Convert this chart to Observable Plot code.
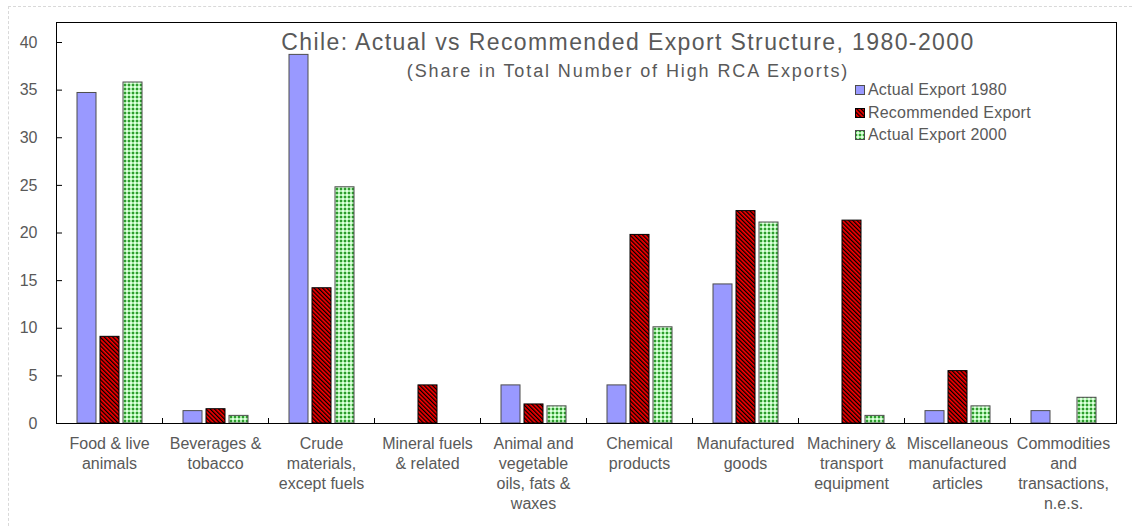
<!DOCTYPE html>
<html>
<head>
<meta charset="utf-8">
<script src="https://cdn.jsdelivr.net/npm/d3@7"></script>
<script src="https://cdn.jsdelivr.net/npm/@observablehq/plot@0.6"></script>
<style>
  html, body { margin: 0; padding: 0; background: #fff; }
  #wrap { position: relative; width: 1132px; height: 526px; overflow: hidden; font-family: "Liberation Sans", Arial, sans-serif; color: #595959; }
  #border { position: absolute; left: 8px; top: 6px; right: -10px; bottom: -10px; border-left: 1px dashed #d9d9d9; border-top: 1px dashed #d9d9d9; }
  #chart { position: absolute; left: 0; top: 0; }
  .title { position: absolute; left: 0; width: 1256px; text-align: center; white-space: nowrap; }
  #t1 { top: 29px; font-size: 23px; letter-spacing: 1.4px; }
  #t2 { top: 61px; font-size: 18px; letter-spacing: 1.9px; }
  #legend { position: absolute; left: 855px; top: 79px; font-size: 16px; letter-spacing: 0.2px; }
  .item { height: 22.5px; line-height: 22.5px; display: flex; align-items: center; white-space: nowrap; }
  .item svg { margin-right: 3px; }
</style>
</head>
<body>
<div id="wrap">
  <div id="border"></div>
  <div id="chart"></div>
  <div class="title" id="t1">Chile: Actual vs Recommended Export Structure, 1980-2000</div>
  <div class="title" id="t2">(Share in Total Number of High RCA Exports)</div>
  <div id="legend"></div>
</div>
<svg width="0" height="0" style="position:absolute">
  <defs>
    <pattern id="pBlue" width="4" height="4" patternUnits="userSpaceOnUse">
      <rect width="4" height="4" fill="#9999ff"></rect>
    </pattern>
    <pattern id="pRed" width="3" height="3" patternUnits="userSpaceOnUse" patternTransform="rotate(-45)">
      <rect width="3" height="3" fill="#ff0000"></rect>
      <rect width="1.3" height="3" fill="#000000"></rect>
    </pattern>
    <pattern id="pGreen" width="4" height="4" patternUnits="userSpaceOnUse">
      <rect width="4" height="4" fill="#a8eca8"></rect>
      <rect x="0" y="0" width="2" height="2" fill="#2e9a2e"></rect>
      <rect x="2" y="2" width="2" height="2" fill="#e0ffe0"></rect>
    </pattern>
  </defs>
</svg>
<script>
// ---- data ----
const categories = ["Food", "Beverages", "Crude", "Mineral", "Animal", "Chemical", "Manufactured", "Machinery", "Miscellaneous", "Commodities"];
const categoryLabels = [
  "Food & live\nanimals",
  "Beverages &\ntobacco",
  "Crude\nmaterials,\nexcept fuels",
  "Mineral fuels\n& related",
  "Animal and\nvegetable\noils, fats &\nwaxes",
  "Chemical\nproducts",
  "Manufactured\ngoods",
  "Machinery &\ntransport\nequipment",
  "Miscellaneous\nmanufactured\narticles",
  "Commodities\nand\ntransactions,\nn.e.s."
];
const seriesNames = ["Actual Export 1980", "Recommended Export", "Actual Export 2000"];
const actual1980  = [34.7, 1.3, 38.7, 0.0, 4.0, 4.0, 14.6, 0.0, 1.3, 1.3];
const recommended = [9.1, 1.5, 14.2, 4.0, 2.0, 19.8, 22.3, 21.3, 5.5, 0.0];
const actual2000  = [35.8, 0.8, 24.8, 0.0, 1.8, 10.1, 21.1, 0.8, 1.8, 2.7];
const yTicks = [0, 5, 10, 15, 20, 25, 30, 35, 40];

const seriesValues = [actual1980, recommended, actual2000];
const fills = ["url(#pBlue)", "url(#pRed)", "url(#pGreen)"];
const strokes = ["#4d4d4d", "#000000", "#4d4d4d"];

const rows = [];
seriesValues.forEach((vals, s) => vals.forEach((v, i) => rows.push({cat: categories[i], series: seriesNames[s], value: v})));
const labelOf = new Map(categories.map((c, i) => [c, categoryLabels[i]]));

const W = 1132, H = 526, mT = 22, mB = 103, mL = 52, mR = 13;
const innerH = H - mT - mB;

const chart = Plot.plot({
  width: W,
  height: H,
  marginTop: mT,
  marginBottom: mB,
  marginLeft: mL,
  marginRight: mR,
  style: {fontFamily: "'Liberation Sans', Arial, sans-serif", fontSize: "16px", color: "#595959", background: "transparent"},
  fx: {domain: categories, padding: 0, axis: null},
  x: {domain: seriesNames, paddingInner: 0.19, paddingOuter: 0.87, axis: null},
  y: {domain: [0, 42.1], axis: null},
  marks: [
    ...seriesNames.map((name, s) => Plot.barY(rows.filter(d => d.series === name && d.value > 0), {
      fx: "cat", x: "series", y: "value",
      fill: fills[s], stroke: strokes[s], strokeWidth: 1
    })),
    Plot.frame({anchor: "left", insetTop: innerH - 5, stroke: "#000"}),
    Plot.frame({facet: "super", stroke: "#000"}),
    Plot.axisY(yTicks, {tickSize: 0, tickPadding: 19, fontSize: 16, fill: "#595959", label: null}),
    Plot.axisY(yTicks, {tickSize: 6, dx: 6, fill: "none", stroke: "#000", label: null}),
    Plot.axisFx({anchor: "bottom", tickSize: 0, tickPadding: 11, fontSize: 16, lineHeight: 1.25, fill: "#595959", label: null, tickFormat: d => labelOf.get(d)})
  ]
});
document.getElementById("chart").appendChild(chart);

// legend
const legend = document.getElementById("legend");
seriesNames.forEach((name, s) => {
  const item = document.createElement("div");
  item.className = "item";
  item.innerHTML = `<svg width="10" height="10"><rect x="0.5" y="0.5" width="9" height="9" fill="${fills[s]}" stroke="${strokes[s]}"></rect></svg><span>${name}</span>`;
  legend.appendChild(item);
});
</script>
</body>
</html>
